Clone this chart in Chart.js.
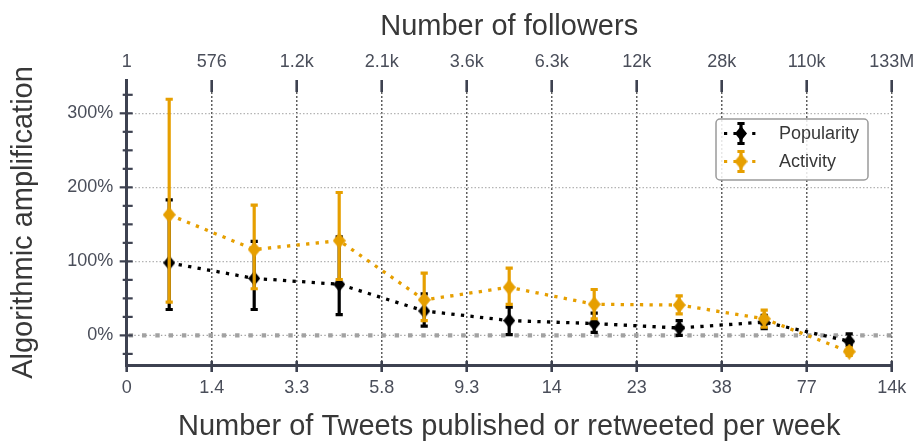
<!DOCTYPE html>
<html>
<head>
<meta charset="utf-8">
<script src="https://cdn.jsdelivr.net/npm/chart.js@4.4.0/dist/chart.umd.min.js"></script>
<style>
  html, body { margin: 0; padding: 0; background: #ffffff; }
  canvas { display: block; }
</style>
</head>
<body>
<canvas id="chart" width="923" height="441"></canvas>
<script>
// Bin edges: tweets per week (bottom axis) and follower counts (top axis)
const tweetTicks = ['0', '1.4', '3.3', '5.8', '9.3', '14', '23', '38', '77', '14k'];
const followerTicks = ['1', '576', '1.2k', '2.1k', '3.6k', '6.3k', '12k', '28k', '110k', '133M'];

// Bin centres on the bottom axis (one per bin between consecutive edges)
const binCenters = [0.5, 1.5, 2.5, 3.5, 4.5, 5.5, 6.5, 7.5, 8.5];

// Algorithmic amplification (%) with confidence intervals
const popularity     = [98, 77, 69, 33, 20, 16, 10, 18, -8];
const popularityLow  = [35, 35, 28, 12.5, 1, 4, 0, 9, -13.5];
const popularityHigh = [183, 127, 133, 56, 38, 30, 20, 27, 2];

const activity     = [163, 116, 128, 48, 65, 42, 41, 22.5, -22];
const activityLow  = [45, 63, 75.5, 20, 42, 22.5, 29, 11, -27];
const activityHigh = [319, 176, 193, 84, 91, 62, 53.5, 34, -17];

const yMajorTicks = [0, 100, 200, 300];

const AXIS_COLOR = '#3d4150';
const LABEL_COLOR = '#4a4e5a';
const TITLE_COLOR = '#383838';
const BLACK = '#000000';
const ORANGE = '#e69f00';
const FONT = "'Liberation Sans', Arial, Helvetica, sans-serif";

// Thin diamond marker
function diamondMarker(color, w, h) {
  const c = document.createElement('canvas');
  c.width = w; c.height = h;
  const g = c.getContext('2d');
  g.fillStyle = color;
  g.beginPath();
  g.moveTo(w / 2, 0);
  g.lineTo(w, h / 2);
  g.lineTo(w / 2, h);
  g.lineTo(0, h / 2);
  g.closePath();
  g.fill();
  return c;
}

function toPoints(values) {
  return values.map((v, i) => ({ x: binCenters[i], y: v }));
}

// Vertical error bars with caps, drawn just before each dataset
const errorBars = {
  id: 'errorBars',
  beforeDatasetDraw(chart, args) {
    const ds = chart.data.datasets[args.index];
    if (!ds.errLow) return;
    const { ctx, scales: { x, y } } = chart;
    ctx.save();
    ctx.strokeStyle = ds.borderColor;
    ctx.lineWidth = 3.2;
    ctx.setLineDash([]);
    ctx.lineCap = 'butt';
    ds.data.forEach((p, i) => {
      const px = x.getPixelForValue(p.x);
      const top = y.getPixelForValue(ds.errHigh[i]);
      const bot = y.getPixelForValue(ds.errLow[i]);
      ctx.beginPath();
      ctx.moveTo(px, top);
      ctx.lineTo(px, bot);
      ctx.stroke();
      ctx.beginPath();
      ctx.moveTo(px - 3.6, top); ctx.lineTo(px + 3.6, top);
      ctx.moveTo(px - 3.6, bot); ctx.lineTo(px + 3.6, bot);
      ctx.stroke();
    });
    ctx.restore();
  }
};

// Zero reference line (dotted with square markers)
const zeroLine = {
  id: 'zeroLine',
  beforeDatasetsDraw(chart) {
    const { ctx, chartArea, scales: { y } } = chart;
    const py = y.getPixelForValue(0);
    ctx.save();
    ctx.strokeStyle = '#a2a2a2';
    ctx.lineCap = 'butt';
    ctx.lineWidth = 1.4;
    ctx.setLineDash([1.4, 2.4]);
    ctx.beginPath();
    ctx.moveTo(chartArea.left, py);
    ctx.lineTo(chartArea.right, py);
    ctx.stroke();
    ctx.lineWidth = 4.4;
    ctx.setLineDash([4.4, 8.9]);
    ctx.lineDashOffset = -2;
    ctx.beginPath();
    ctx.moveTo(chartArea.left, py);
    ctx.lineTo(chartArea.right, py);
    ctx.stroke();
    ctx.restore();
  }
};

// Tick marks on the axes
const tickMarks = {
  id: 'tickMarks',
  afterDraw(chart) {
    const { ctx, chartArea, scales: { x, y } } = chart;
    ctx.save();
    ctx.strokeStyle = AXIS_COLOR;
    ctx.setLineDash([]);
    ctx.lineWidth = 2.6;
    tweetTicks.forEach((_, i) => {
      const px = x.getPixelForValue(i);
      ctx.beginPath();
      ctx.moveTo(px, chartArea.bottom - 4);
      ctx.lineTo(px, chartArea.bottom + 7);
      ctx.moveTo(px, chartArea.top);
      ctx.lineTo(px, chartArea.top + 12);
      ctx.stroke();
    });
    ctx.lineWidth = 2.2;
    for (let v = -25; v <= 325; v += 25) {
      const py = y.getPixelForValue(v);
      const major = yMajorTicks.includes(v);
      ctx.beginPath();
      ctx.moveTo(chartArea.left - (major ? 7 : 4), py);
      ctx.lineTo(chartArea.left + 6, py);
      ctx.stroke();
    }
    ctx.restore();
  }
};

// Legend box with error-bar symbols
const legendBox = {
  id: 'legendBox',
  afterDraw(chart) {
    const ctx = chart.ctx;
    const bx = 716, by = 119, bw = 152, bh = 61, r = 4;
    ctx.save();
    ctx.fillStyle = 'rgba(255,255,255,0.85)';
    ctx.strokeStyle = '#9a9a9a';
    ctx.lineWidth = 1.5;
    ctx.beginPath();
    ctx.moveTo(bx + r, by);
    ctx.arcTo(bx + bw, by, bx + bw, by + bh, r);
    ctx.arcTo(bx + bw, by + bh, bx, by + bh, r);
    ctx.arcTo(bx, by + bh, bx, by, r);
    ctx.arcTo(bx, by, bx + bw, by, r);
    ctx.closePath();
    ctx.fill();
    ctx.stroke();
    const items = chart.data.datasets.filter(d => d.errLow);
    items.forEach((ds, k) => {
      const cy = 133.5 + k * 28;
      const cx = 741;
      ctx.strokeStyle = ds.borderColor;
      ctx.lineWidth = 3.2;
      ctx.setLineDash([3.2, 6.2]);
      ctx.lineDashOffset = 0;
      ctx.beginPath();
      ctx.moveTo(724, cy);
      ctx.lineTo(758, cy);
      ctx.stroke();
      ctx.setLineDash([]);
      ctx.beginPath();
      ctx.moveTo(cx, cy - 10); ctx.lineTo(cx, cy + 10);
      ctx.moveTo(cx - 3.6, cy - 10); ctx.lineTo(cx + 3.6, cy - 10);
      ctx.moveTo(cx - 3.6, cy + 10); ctx.lineTo(cx + 3.6, cy + 10);
      ctx.stroke();
      ctx.drawImage(ds.pointStyle, cx - ds.pointStyle.width / 2, cy - ds.pointStyle.height / 2);
      ctx.fillStyle = TITLE_COLOR;
      ctx.font = '18px ' + FONT;
      ctx.textBaseline = 'middle';
      ctx.textAlign = 'left';
      ctx.fillText(ds.label, 779, cy + 1);
    });
    ctx.restore();
  }
};

const blackDiamond = diamondMarker(BLACK, 12, 15);
const orangeDiamond = diamondMarker(ORANGE, 13, 16);

new Chart(document.getElementById('chart'), {
  type: 'line',
  data: {
    datasets: [
      {
        label: 'Popularity',
        data: toPoints(popularity),
        errLow: popularityLow,
        errHigh: popularityHigh,
        borderColor: BLACK,
        backgroundColor: BLACK,
        borderWidth: 3.3,
        borderDash: [3.3, 6.3],
        borderCapStyle: 'butt',
        pointStyle: blackDiamond,
        tension: 0,
        order: 2,
        clip: false
      },
      {
        label: 'Activity',
        data: toPoints(activity),
        errLow: activityLow,
        errHigh: activityHigh,
        borderColor: ORANGE,
        backgroundColor: ORANGE,
        borderWidth: 3.3,
        borderDash: [3.3, 6.3],
        borderCapStyle: 'butt',
        pointStyle: orangeDiamond,
        tension: 0,
        order: 1,
        clip: false
      }
    ]
  },
  options: {
    responsive: false,
    animation: false,
    devicePixelRatio: 1,
    layout: { padding: { left: 0, right: 31.3, top: 0, bottom: 0 } },
    plugins: {
      legend: { display: false },
      tooltip: { enabled: false }
    },
    scales: {
      x: {
        type: 'linear',
        position: 'bottom',
        min: 0,
        max: 9,
        afterBuildTicks(scale) {
          scale.ticks = tweetTicks.map((_, i) => ({ value: i }));
        },
        afterFit(scale) {
          scale.height = 76;
          scale.paddingLeft = 0;
          scale.paddingRight = 0;
        },
        ticks: {
          autoSkip: false,
          maxRotation: 0,
          padding: 12,
          color: LABEL_COLOR,
          font: { family: FONT, size: 18 },
          callback: (v) => tweetTicks[v]
        },
        grid: {
          color: '#5e5e5e',
          lineWidth: 1.5,
          drawTicks: false
        },
        border: { display: true, color: AXIS_COLOR, width: 3, dash: [2, 2] },
        title: {
          display: true,
          text: 'Number of Tweets published or retweeted per week',
          color: TITLE_COLOR,
          font: { family: FONT, size: 29, lineHeight: 1 },
          padding: { top: 0, bottom: 0 }
        }
      },
      x2: {
        type: 'linear',
        position: 'top',
        min: 0,
        max: 9,
        afterBuildTicks(scale) {
          scale.ticks = followerTicks.map((_, i) => ({ value: i }));
        },
        afterFit(scale) {
          scale.height = 80;
          scale.paddingLeft = 0;
          scale.paddingRight = 0;
        },
        ticks: {
          autoSkip: false,
          maxRotation: 0,
          padding: 7,
          color: LABEL_COLOR,
          font: { family: FONT, size: 18 },
          callback: (v) => followerTicks[v]
        },
        grid: { display: false, drawTicks: false },
        border: { display: false },
        title: {
          display: true,
          text: 'Number of followers',
          color: TITLE_COLOR,
          font: { family: FONT, size: 29, lineHeight: 1 },
          padding: { top: 12.5, bottom: 0 }
        }
      },
      y: {
        type: 'linear',
        position: 'left',
        min: -40,
        max: 345,
        afterBuildTicks(scale) {
          scale.ticks = yMajorTicks.map(v => ({ value: v }));
        },
        afterFit(scale) {
          scale.width = 126.7;
          scale.paddingTop = 0;
          scale.paddingBottom = 0;
        },
        ticks: {
          padding: 13.5,
          color: LABEL_COLOR,
          font: { family: FONT, size: 18 },
          callback: (v) => v + '%'
        },
        grid: {
          color: (c) => (c.tick && c.tick.value !== 0 ? '#b4b4b4' : 'rgba(0,0,0,0)'),
          lineWidth: 1.2,
          drawTicks: false
        },
        border: { display: true, color: AXIS_COLOR, width: 3, dash: [1.5, 2] },
        title: {
          display: true,
          text: 'Algorithmic amplification',
          color: TITLE_COLOR,
          font: { family: FONT, size: 29, lineHeight: 1 },
          padding: { top: 9.5, bottom: 0 }
        }
      }
    }
  },
  plugins: [zeroLine, errorBars, tickMarks, legendBox]
});
</script>
</body>
</html>
